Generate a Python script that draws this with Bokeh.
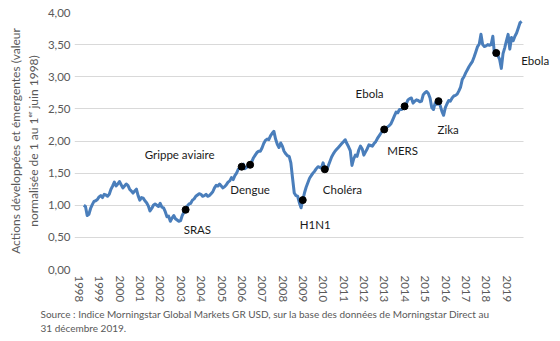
from bokeh.plotting import figure
from bokeh.models import FixedTicker, Label, Title, Range1d
from bokeh.embed import file_html
from bokeh.resources import INLINE

# ---------------- data (monthly index, normalised to 1 at 1 June 1998) ----------------
start_year = 1998
start_month = 6
values_1998 = [1.00, 0.98, 0.84, 0.86, 0.95, 1.01, 1.06]
values_1999 = [1.07, 1.09, 1.13, 1.15, 1.12, 1.17, 1.16, 1.14, 1.17, 1.25, 1.30, 1.36]
values_2000 = [1.30, 1.33, 1.37, 1.32, 1.27, 1.30, 1.33, 1.31, 1.25, 1.22, 1.19, 1.22]
values_2001 = [1.25, 1.15, 1.08, 1.12, 1.11, 1.07, 1.04, 0.99, 0.91, 0.95, 1.00, 1.02]
values_2002 = [1.00, 0.98, 1.03, 0.97, 0.96, 0.90, 0.82, 0.83, 0.75, 0.80, 0.84, 0.79]
values_2003 = [0.77, 0.75, 0.76, 0.84, 0.89, 0.93, 0.99, 1.02, 1.03, 1.08, 1.10, 1.14]
values_2004 = [1.16, 1.18, 1.17, 1.14, 1.15, 1.17, 1.14, 1.15, 1.18, 1.21, 1.27, 1.31]
values_2005 = [1.30, 1.33, 1.30, 1.27, 1.29, 1.32, 1.36, 1.38, 1.43, 1.40, 1.46, 1.50]
values_2006 = [1.56, 1.58, 1.60, 1.64, 1.57, 1.59, 1.61, 1.63, 1.68, 1.74, 1.78, 1.82]
values_2007 = [1.84, 1.84, 1.89, 1.96, 2.01, 2.03, 2.02, 2.08, 2.12, 2.15, 2.03, 1.95]
values_2008 = [1.90, 1.97, 1.92, 1.84, 1.80, 1.77, 1.76, 1.66, 1.42, 1.19, 1.15, 1.14]
values_2009 = [1.04, 0.96, 1.08, 1.19, 1.28, 1.35, 1.42, 1.46, 1.50, 1.53, 1.57, 1.60]
values_2010 = [1.59, 1.58, 1.66, 1.56, 1.55, 1.61, 1.68, 1.75, 1.80, 1.84, 1.87, 1.90]
values_2011 = [1.93, 1.96, 1.99, 2.02, 1.96, 1.91, 1.85, 1.62, 1.72, 1.78, 1.76, 1.86]
values_2012 = [1.92, 1.88, 1.78, 1.83, 1.88, 1.94, 1.93, 1.92, 1.96, 1.99, 2.04, 2.08]
values_2013 = [2.12, 2.16, 2.18, 2.20, 2.22, 2.24, 2.27, 2.33, 2.39, 2.45, 2.44, 2.49]
values_2014 = [2.49, 2.50, 2.54, 2.58, 2.64, 2.66, 2.67, 2.59, 2.62, 2.64, 2.63, 2.61]
values_2015 = [2.62, 2.72, 2.75, 2.77, 2.74, 2.67, 2.52, 2.49, 2.59, 2.57, 2.62, 2.55]
values_2016 = [2.46, 2.40, 2.52, 2.58, 2.63, 2.62, 2.67, 2.70, 2.71, 2.73, 2.78, 2.84]
values_2017 = [2.96, 3.00, 3.06, 3.11, 3.16, 3.20, 3.24, 3.31, 3.39, 3.47, 3.51, 3.66]
values_2018 = [3.50, 3.47, 3.48, 3.50, 3.49, 3.50, 3.63, 3.34, 3.37, 3.33, 3.27, 3.13]
values_2019 = [3.36, 3.45, 3.56, 3.66, 3.43, 3.61, 3.56, 3.63, 3.68, 3.76, 3.84, 3.86]

# events: (name, year, month, value)
event_names = ["SRAS", "Grippe aviaire", "Dengue", "H1N1", "Choléra", "MERS", "Ebola", "Zika", "Ebola"]
event_years = [2003, 2006, 2006, 2009, 2010, 2013, 2014, 2015, 2018]
event_months = [6, 3, 8, 3, 4, 3, 3, 11, 9]
event_values = [0.93, 1.60, 1.63, 1.08, 1.56, 2.18, 2.54, 2.62, 3.37]

years = list(range(1998, 2020))
year_labels = [str(y) for y in years]
y_ticks = [0.0, 0.5, 1.0, 1.5, 2.0, 2.5, 3.0, 3.5, 4.0]
y_tick_labels = ["0,00", "0,50", "1,00", "1,50", "2,00", "2,50", "3,00", "3,50", "4,00"]

y_label = "Actions développées et émergentes (valeur\nnormalisée de 1 au 1ᵉʳ juin 1998)"
source_text = ("Source : Indice Morningstar Global Markets GR USD, sur la base des données de Morningstar Direct au\n"
               "31 décembre 2019.")

# ---------------- build series ----------------
series = (values_1998 + values_1999 + values_2000 + values_2001 + values_2002 + values_2003
          + values_2004 + values_2005 + values_2006 + values_2007 + values_2008 + values_2009
          + values_2010 + values_2011 + values_2012 + values_2013 + values_2014 + values_2015
          + values_2016 + values_2017 + values_2018 + values_2019)
dates = [start_year + (start_month - 1 + i) / 12.0 for i in range(len(series))]
ev_x = [y + (m - 1) / 12.0 for y, m in zip(event_years, event_months)]

TICK_FONT = "Lato"
ANN_FONT = "Lato"
GREY = "#595959"

X_START, X_PLOT_END, X_FRAME_END = 1997.96, 2020.0, 2021.38

p = figure(width=560, height=341, output_backend="svg", toolbar_location=None,
           x_range=Range1d(X_START, X_FRAME_END), y_range=Range1d(0, 4),
           min_border_left=74, min_border_right=9, min_border_top=12, min_border_bottom=72)
p.outline_line_color = None
p.background_fill_color = "white"
p.border_fill_color = "white"

p.xgrid.visible = False
p.ygrid.ticker = FixedTicker(ticks=y_ticks)
p.ygrid.grid_line_color = "#d9d9d9"
p.ygrid.grid_line_width = 1
if "cross_bounds" in p.ygrid[0].properties():
    p.ygrid.cross_bounds = (X_START, X_PLOT_END)
else:
    p.ygrid.visible = False
    p.segment(x0=[X_START] * len(y_ticks), y0=y_ticks, x1=[X_PLOT_END] * len(y_ticks), y1=y_ticks,
              line_color="#d9d9d9", line_width=1)

tick_shift = 0.18
x_tick_pos = [y + tick_shift for y in years]
p.xaxis.ticker = FixedTicker(ticks=x_tick_pos)
p.xaxis.major_label_overrides = {t: lab for t, lab in zip(x_tick_pos, year_labels)}
p.xaxis.major_label_orientation = "vertical"
p.xaxis.major_label_standoff = 6

p.yaxis.ticker = FixedTicker(ticks=y_ticks)
p.yaxis.major_label_overrides = {t: lab for t, lab in zip(y_ticks, y_tick_labels)}
p.yaxis.major_label_standoff = 4
p.yaxis.axis_label = y_label
p.yaxis.axis_label_text_font = TICK_FONT
p.yaxis.axis_label_text_font_size = "12px"
p.yaxis.axis_label_text_font_style = "normal"
p.yaxis.axis_label_text_color = GREY
p.yaxis.axis_label_standoff = 4

for ax in (p.xaxis, p.yaxis):
    ax.axis_line_color = None
    ax.major_tick_line_color = None
    ax.minor_tick_line_color = None
    ax.major_tick_out = 0
    ax.major_tick_in = 0
    ax.minor_tick_out = 0
    ax.minor_tick_in = 0
    ax.major_label_text_font = TICK_FONT
    ax.major_label_text_font_size = "11.5px"
    ax.major_label_text_color = GREY

p.line(dates, series, line_color="#4a7ebb", line_width=3, line_join="round")
p.scatter(ev_x, event_values, size=7, fill_color="black", line_color="black")

# label placement (pixels, relative to each event dot)
label_align = ["left", "right", "center", "left", "left", "left", "right", "left", "left"]
label_dx = [-2, -27, 0, -3, -2, 3, -21, -1, 25]
label_dy = [-20, 12, -25, -24, -20, -21, 13, -28, -8]
for name, x, v, al, dx, dy in zip(event_names, ev_x, event_values, label_align, label_dx, label_dy):
    p.add_layout(Label(x=x, y=v, text=name, x_offset=dx, y_offset=dy, text_align=al,
                       text_baseline="middle", text_font=ANN_FONT, text_font_size="11.5px",
                       text_color="#1a1a1a"))

t1 = Title(text=source_text, align="left", offset=-34, text_font=TICK_FONT, text_font_size="10px",
           text_font_style="normal", text_color=GREY, standoff=2, text_line_height=1.2)
p.add_layout(t1, "below")

open("out.html", "w").write(file_html(p, INLINE))
